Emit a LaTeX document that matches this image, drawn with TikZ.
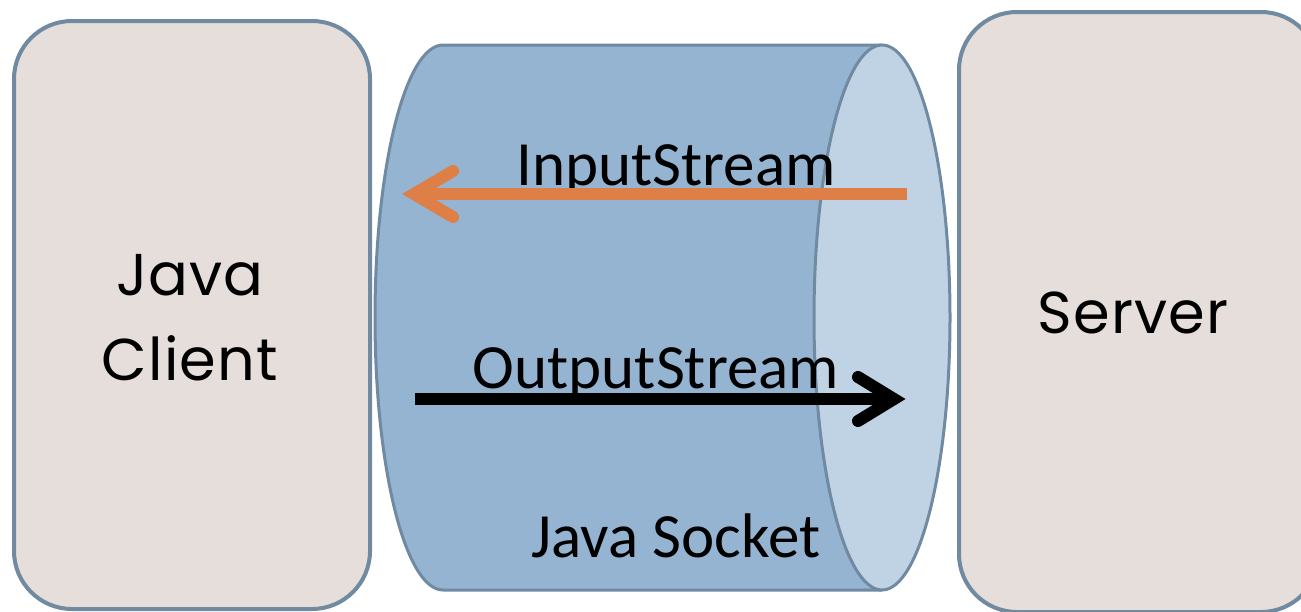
\documentclass[tikz,border=0pt]{standalone}
\usepackage{fontspec}
\setmainfont{Carlito}
\newfontfamily\gothic[LetterSpace=2]{Poppins}
\definecolor{boxfill}{HTML}{E5DEDB}
\definecolor{edge}{HTML}{6F8AA1}
\definecolor{body}{HTML}{94B4D2}
\definecolor{face}{HTML}{C0D3E5}
\definecolor{inorange}{HTML}{DF7F48}
\tikzset{
  box/.style={draw=edge, fill=boxfill, line width=4pt, rounded corners=58pt},
  cyl/.style={draw=edge, line width=3pt},
  lbl/.style={anchor=base, inner sep=0pt, font=\fontsize{63}{70}\selectfont},
  big/.style={inner sep=0pt, align=center, font=\gothic\fontsize{59}{85}\selectfont},
  flow/.style={line width=12pt},
  chev/.style={line width=12pt, line cap=round, line join=miter},
}
\begin{document}
\begin{tikzpicture}[x=1pt,y=1pt]
\useasboundingbox (0,0) rectangle (1301,-611);
\clip (0,0) rectangle (1301,-611);
% boxes
\node[box, minimum width=356pt, minimum height=588pt, anchor=north west] (client) at (12,-19) {};
\node[box, minimum width=360pt, minimum height=600pt, anchor=north west] (server) at (957,-10) {};
\node[big] (clienttxt) at (190,-318) {Java\\Client};
\node[big, anchor=base] (servertxt) at (1133,-333) {Server};
% cylinder
\fill[body] (443,-45) arc[start angle=90, end angle=270, x radius=68, y radius=272.5] -- (882,-590) -- (882,-45) -- cycle;
\draw[cyl] (882,-45) -- (443,-45) arc[start angle=90, end angle=270, x radius=68, y radius=272.5] -- (882,-590);
\draw[cyl, fill=face] (882,-317.5) ellipse[x radius=68, y radius=272.5];
\node (socket) at (882,-317.5) {};
% texts
\node[lbl] (intxt) at (676,-185) {InputStream};
\node[lbl] (outtxt) at (656,-388) {OutputStream};
\node[lbl] (socktxt) at (676,-557) {Java Socket};
% input arrow
\coordinate (inA) at (907,-194);
\coordinate (inB) at (414,-194);
\coordinate (inT) at (453,-171);
\coordinate (inD) at (453,-217);
\draw[flow, draw=inorange] (inA) -- ([xshift=6pt]inB);
\draw[chev, draw=inorange] (inT) -- (inB) -- (inD);
% output arrow
\coordinate (outA) at (415,-399);
\coordinate (outB) at (894,-399);
\coordinate (outT) at (858,-377);
\coordinate (outD) at (858,-421);
\draw[flow, draw=black] (outA) -- ([xshift=-6pt]outB);
\draw[chev, draw=black] (outT) -- (outB) -- (outD);
\end{tikzpicture}
\end{document}
